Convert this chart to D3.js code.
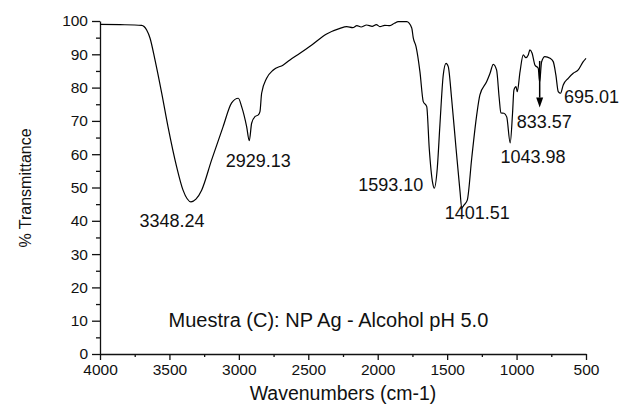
<!DOCTYPE html>
<html>
<head>
<meta charset="utf-8">
<script src="https://cdn.jsdelivr.net/npm/d3@7"></script>
<style>
  body { margin: 0; background: #fff; }
  text { font-family: Arial, "Liberation Sans", sans-serif; fill: #111; }
</style>
</head>
<body>
<script>
// spectrum
var wavenumber = [4000, 3856, 3700, 3664, 3640, 3604, 3556, 3510, 3448, 3402, 3345, 3309, 3268, 3196, 3114, 3052,
  3004, 2980, 2944, 2925, 2908, 2884, 2860, 2848, 2836, 2800, 2752, 2680, 2632, 2560, 2475, 2368, 2272, 2223,
  2180, 2150, 2120, 2080, 2040, 2010, 1984, 1950, 1912, 1880, 1852, 1791, 1755, 1744, 1724, 1696, 1672, 1647,
  1629, 1604, 1593, 1571, 1552, 1528, 1508, 1492, 1468, 1436, 1407, 1395, 1379, 1355, 1323, 1287, 1264, 1215,
  1191, 1168, 1144, 1125, 1113, 1091, 1071, 1046, 1029, 1019, 1004, 995, 975, 952, 933, 916, 904, 888, 868,
  844, 834, 820, 796, 759, 736, 717, 700, 683, 664, 628, 592, 556, 520, 500];
var transmittance = [99.0, 98.9, 98.7, 97.3, 94.9, 88.3, 78.4, 68.2, 56.2, 49.2, 45.7, 46.5, 49.2, 58.3, 68.2, 75.4,
  76.8, 74.3, 68.3, 64.1, 69.3, 71.3, 71.8, 72.8, 78.3, 82.8, 85.3, 86.8, 88.3, 90.3, 92.8, 96.1, 97.8, 98.3,
  98.0, 98.6, 98.2, 98.8, 98.4, 98.9, 98.3, 98.7, 98.6, 99.3, 99.8, 99.8, 97.9, 94.9, 92.3, 84.8, 75.8, 74.3,
  61.8, 51.3, 49.8, 55.8, 68.8, 83.8, 87.3, 86.3, 76.8, 61.8, 48.7, 43.8, 44.7, 46.2, 58.8, 71.8, 77.8, 81.8,
  84.3, 87.0, 85.3, 76.8, 72.4, 72.3, 71.2, 63.4, 72.3, 79.3, 80.3, 78.8, 84.8, 89.8, 89.0, 89.8, 91.3, 90.3, 86.8,
  85.8, 81.7, 87.7, 89.3, 88.8, 87.8, 83.8, 78.8, 78.3, 80.8, 82.8, 84.3, 85.3, 87.8, 88.8];

var peakLabels = ["3348.24", "2929.13", "1593.10", "1401.51", "1043.98", "833.57", "695.01"];
var peakWn = [3348.24, 2929.13, 1593.10, 1401.51, 1043.98, 833.57, 695.01];
var peakT = [45.7, 64.1, 49.8, 43.8, 63.4, 74, 78.8];

var xTicks = [4000, 3500, 3000, 2500, 2000, 1500, 1000, 500];
var xMinor = [3750, 3250, 2750, 2250, 1750, 1250, 750];
var yTicks = [0, 10, 20, 30, 40, 50, 60, 70, 80, 90, 100];
var yMinor = [5, 15, 25, 35, 45, 55, 65, 75, 85, 95];

var sampleNote = "Muestra (C): NP Ag - Alcohol pH 5.0";

var width = 626, height = 407,
    margin = { top: 21, right: 40, bottom: 53, left: 100 },
    plotW = width - margin.left - margin.right,
    plotH = height - margin.top - margin.bottom;

var svg = d3.select("body").append("svg")
    .attr("width", width)
    .attr("height", height);

var g = svg.append("g")
    .attr("transform", "translate(" + margin.left + "," + margin.top + ")");

var x = d3.scaleLinear().domain([4000, 500]).range([0, plotW]);
var y = d3.scaleLinear().domain([0, 100]).range([plotH, 0]);

// axes: majors with labels, minors without
g.append("g")
    .attr("transform", "translate(0," + plotH + ")")
    .call(d3.axisBottom(x).tickValues(xTicks).tickFormat(d3.format("d"))
      .tickSize(6).tickSizeOuter(0).tickPadding(4));
g.append("g")
    .attr("transform", "translate(0," + plotH + ")")
    .call(d3.axisBottom(x).tickValues(xMinor).tickSize(3).tickFormat(""))
    .select(".domain").remove();

g.append("g")
    .call(d3.axisLeft(y).tickValues(yTicks).tickFormat(d3.format("d"))
      .tickSize(8).tickSizeOuter(0).tickPadding(4));
g.append("g")
    .call(d3.axisLeft(y).tickValues(yMinor).tickSize(4).tickFormat(""))
    .select(".domain").remove();

g.selectAll(".domain, .tick line").attr("stroke", "#111").attr("stroke-width", 1.3);
g.selectAll(".tick text").style("font-size", "15.5px").attr("fill", "#111");

// spectrum line
var points = wavenumber.map(function (d, i) { return [d, transmittance[i]]; });
var line = d3.line()
    .x(function (d) { return x(d[0]); })
    .y(function (d) { return y(d[1]); })
    .curve(d3.curveMonotoneX);

g.append("path")
    .datum(points)
    .attr("d", line)
    .attr("fill", "none")
    .attr("stroke", "#000")
    .attr("stroke-width", 1.2);

// peak labels, offsets from each minimum in pixels
var labelOffset = [
  { dx: -51, dy: 25, anchor: "start" },
  { dx: -23, dy: 26, anchor: "start" },
  { dx: -11, dy: 3, anchor: "end" },
  { dx: -16, dy: 11, anchor: "start" },
  { dx: -10, dy: 20, anchor: "start" },
  { dx: -23, dy: 20, anchor: "start" },
  { dx: 5, dy: 11, anchor: "start" }
];

peakLabels.forEach(function (t, i) {
  g.append("text")
    .attr("x", x(peakWn[i]) + labelOffset[i].dx)
    .attr("y", y(peakT[i]) + labelOffset[i].dy)
    .attr("text-anchor", labelOffset[i].anchor)
    .style("font-size", "18px")
    .text(t);
});

// arrow at 833.57
var ax = x(833.57);
g.append("line")
  .attr("x1", ax).attr("x2", ax)
  .attr("y1", y(88)).attr("y2", y(77))
  .attr("stroke", "#000").attr("stroke-width", 1.5);
g.append("path")
  .attr("d", "M" + (ax - 3.5) + "," + y(77) + "L" + (ax + 3.5) + "," + y(77) + "L" + ax + "," + (y(77) + 10) + "Z")
  .attr("fill", "#000");

g.append("text")
  .attr("x", x(2355))
  .attr("y", y(8.1))
  .attr("text-anchor", "middle")
  .style("font-size", "20px")
  .text(sampleNote);

// axis titles
svg.append("text")
  .attr("x", 343)
  .attr("y", 400)
  .attr("text-anchor", "middle")
  .style("font-size", "19.5px")
  .text("Wavenumbers (cm-1)");

svg.append("text")
  .attr("transform", "translate(31,188) rotate(-90)")
  .attr("text-anchor", "middle")
  .style("font-size", "16px")
  .text("% Transmittance");
</script>
</body>
</html>
